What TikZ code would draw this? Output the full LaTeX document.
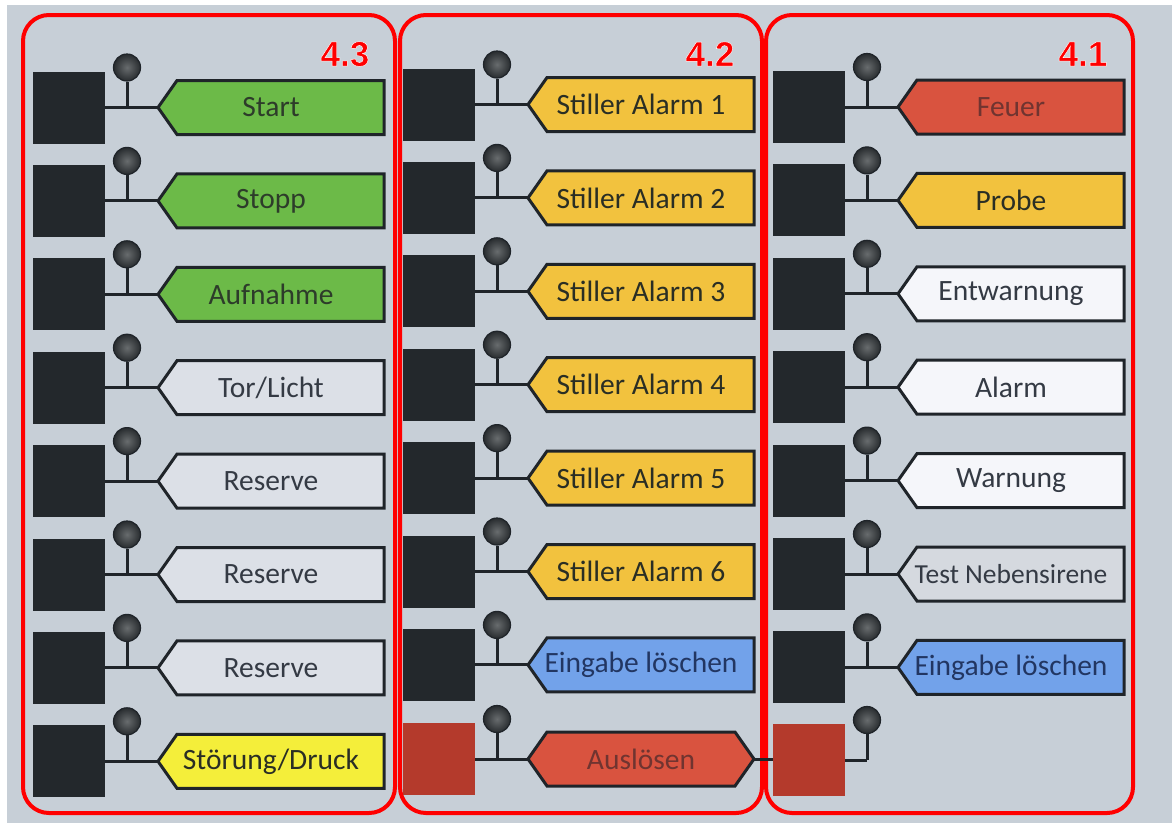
\documentclass[tikz,border=0pt]{standalone}
\usepackage{fontspec}
\setmainfont{Carlito}
\newfontfamily\numfont{Liberation Sans}
\definecolor{bgc}{RGB}{199,207,215}
\definecolor{frame}{RGB}{255,0,0}
\definecolor{sqdark}{RGB}{35,40,44}
\definecolor{sqred}{RGB}{180,58,44}
\definecolor{edge}{RGB}{31,36,41}
\definecolor{fgreen}{RGB}{108,186,72}
\definecolor{forange}{RGB}{242,194,62}
\definecolor{fred}{RGB}{217,83,63}
\definecolor{fwhite}{RGB}{245,246,250}
\definecolor{fgray}{RGB}{220,224,231}
\definecolor{ftest}{RGB}{213,217,223}
\definecolor{fblue}{RGB}{114,162,234}
\definecolor{fyellow}{RGB}{244,238,58}
\definecolor{tdark}{RGB}{52,58,68}
\definecolor{tgreen}{RGB}{45,60,42}
\definecolor{tred}{RGB}{112,52,48}
\definecolor{tblue}{RGB}{34,54,98}
\definecolor{tyellow}{RGB}{42,46,36}
\definecolor{balli}{RGB}{104,108,110}
\definecolor{ballo}{RGB}{40,44,47}
\tikzset{
  sq/.style={rectangle,draw=none,fill=sqdark,minimum width=72pt,minimum height=72pt,inner sep=0pt},
  ball/.style={circle,draw=edge,line width=1.2pt,inner color=balli,outer color=ballo,minimum size=27pt,inner sep=0pt},
  wire/.style={draw=edge,line width=3pt},
  tagline/.style={draw=edge,line width=3pt,line join=miter},
  lbl/.style={inner sep=0pt,font=\fontsize{29.5}{31}\selectfont},
  panel/.style={draw=frame,line width=4pt,rounded corners=26pt},
  num/.style={inner sep=0pt,font=\numfont\bfseries\fontsize{35}{37}\selectfont},
}
\newcommand{\outlined}[1]{\special{pdf:literal direct q 2 Tr 0.45 w 1 1 1 RG}#1\special{pdf:literal direct 0 Tr Q}}
% #1 x offset, #2 row y, #3 id, #4 fill, #5 text, #6 text colour
\newcommand{\panelrow}[6]{%
  \node[sq] (s#3) at (#1+69,#2) {};
  \node[ball] (b#3) at (#1+127,#2-40) {};
  \coordinate (t#3) at (#1+158,#2);
  \draw[tagline,fill=#4] (t#3) -- (#1+177,#2-27) -- (#1+384,#2-27) -- (#1+384,#2+27) -- (#1+177,#2+27) -- cycle;
  \node[lbl,text=#6] (l#3) at (#1+271,#2) {#5};
  \draw[wire] (s#3.east) -- (t#3);
  \draw[wire] (b#3.south) -- (b#3.south |- t#3);
}
\begin{document}
\begin{tikzpicture}[x=1pt,y=-1pt]
\useasboundingbox (0,0) rectangle (1172,823);
\fill[white] (0,0) rectangle (1172,823);
\fill[bgc] (7,5) rectangle (1172,823);
% frames
\draw[panel] (23,15) rectangle (395,813);
\draw[panel] (400,15) rectangle (762,813);
\draw[panel] (766,15) rectangle (1133,813);
\node[num,text=frame] (n43) at (345,54) {\outlined{4.3}};
\node[num,text=frame] (n42) at (710,54) {\outlined{4.2}};
\node[num,text=frame] (n41) at (1083,54) {\outlined{4.1}};
% column 4.3
\panelrow{0}{107.5}{a1}{fgreen}{Start}{tgreen}
\panelrow{0}{200.9}{a2}{fgreen}{Stopp}{tgreen}
\panelrow{0}{294.3}{a3}{fgreen}{Aufnahme}{tgreen}
\panelrow{0}{387.7}{a4}{fgray}{Tor/Licht}{tdark}
\panelrow{0}{481.1}{a5}{fgray}{Reserve}{tdark}
\panelrow{0}{574.5}{a6}{fgray}{Reserve}{tdark}
\panelrow{0}{667.9}{a7}{fgray}{Reserve}{tdark}
\panelrow{0}{761.3}{a8}{fyellow}{Störung/Druck}{tyellow}
% column 4.2
\panelrow{370}{104.5}{b1}{forange}{Stiller Alarm 1}{tyellow}
\panelrow{370}{197.9}{b2}{forange}{Stiller Alarm 2}{tyellow}
\panelrow{370}{291.3}{b3}{forange}{Stiller Alarm 3}{tyellow}
\panelrow{370}{384.7}{b4}{forange}{Stiller Alarm 4}{tyellow}
\panelrow{370}{478.1}{b5}{forange}{Stiller Alarm 5}{tyellow}
\panelrow{370}{571.5}{b6}{forange}{Stiller Alarm 6}{tyellow}
\panelrow{370}{664.9}{b7}{fblue}{Eingabe löschen}{tblue}
% Auslösen row
\node[sq,fill=sqred] (sb8) at (439,759) {};
\node[ball] (bb8) at (497,719) {};
\coordinate (tb8) at (528,759);
\coordinate (rb8) at (754,759);
\draw[tagline,fill=fred] (tb8) -- (547,732) -- (735,732) -- (rb8) -- (735,786) -- (547,786) -- cycle;
\node[lbl,text=tred] (lb8) at (641,759) {Auslösen};
\draw[wire] (sb8.east) -- (tb8);
\draw[wire] (bb8.south) -- (bb8.south |- tb8);
% column 4.1
\panelrow{740}{107}{c1}{fred}{Feuer}{tred}
\panelrow{740}{200.4}{c2}{forange}{Probe}{tyellow}
\panelrow{740}{293.8}{c3}{fwhite}{Entwarnung}{tdark}
\panelrow{740}{387.2}{c4}{fwhite}{Alarm}{tdark}
\panelrow{740}{480.6}{c5}{fwhite}{Warnung}{tdark}
\node[sq] (sc6) at (809,574) {};
\node[ball] (bc6) at (867,534) {};
\coordinate (tc6) at (898,574);
\draw[tagline,fill=ftest] (tc6) -- (917,547) -- (1124,547) -- (1124,601) -- (917,601) -- cycle;
\node[lbl,text=tdark,font=\fontsize{27.5}{29}\selectfont] (lc6) at (1011,574) {Test Nebensirene};
\draw[wire] (sc6.east) -- (tc6);
\draw[wire] (bc6.south) -- (bc6.south |- tc6);
\panelrow{740}{667.4}{c7}{fblue}{Eingabe löschen}{tblue}
% last row of 4.1
\node[sq,fill=sqred] (sc8) at (809,760) {};
\node[ball] (bc8) at (867,720) {};
\coordinate (jc8) at (867,760);
\draw[wire] (sc8.east) -- (jc8);
\draw[wire] (bc8.south) -- (jc8);
\draw[wire] (rb8) -- (sc8.west |- rb8);
\end{tikzpicture}
\end{document}
